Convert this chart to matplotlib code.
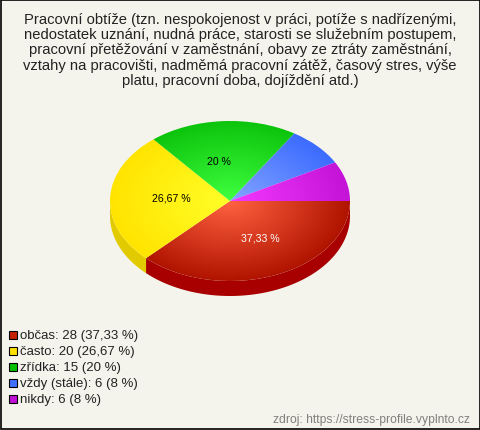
import numpy as np
import matplotlib
matplotlib.use('Agg')
import matplotlib.pyplot as plt
from matplotlib.patches import Wedge, Polygon, Rectangle
from matplotlib.transforms import Affine2D
from matplotlib.colors import LinearSegmentedColormap

plt.rcParams['font.family'] = ['Liberation Sans', 'DejaVu Sans']

title_lines = ['Pracovní obtíže (tzn. nespokojenost v práci, potíže s nadřízenými,',
               'nedostatek uznání, nudná práce, starosti se služebním postupem,',
               'pracovní přetěžování v zaměstnání, obavy ze ztráty zaměstnání,',
               'vztahy na pracovišti, nadměmá pracovní zátěž, časový stres, výše',
               'platu, pracovní doba, dojíždění atd.)']
categories = ['občas', 'často', 'zřídka', 'vždy (stále)', 'nikdy']
counts = [28, 20, 15, 6, 6]
pct_labels = ['37,33 %', '26,67 %', '20 %', '8 %', '8 %']
source = 'zdroj: https://stress-profile.vyplnto.cz'

inner = ['#ff6240', '#ffff28', '#40ff40', '#84a4ff', '#f438ff']
outer = ['#b01400', '#ffe400', '#0cc40c', '#3c6cff', '#c414d8']
side = ['#a80000', '#e2ca00', '#089008', '#2850c0', '#9010a0']
key = ['#c42000', '#ffe000', '#00c000', '#4070ff', '#c010d8']
label_col = ['white', 'black', 'black', None, None]
label_nudge = [(7, 1), (1, -2), (-7, -2), None, None]

bg = '#f5f4ec'
cx, cy, rx, ry, depth = 230, 202, 120, 80, 15

fig = plt.figure(figsize=(4.8, 4.31), dpi=100, facecolor=bg)
ax = fig.add_axes([0, 0, 1, 1])
ax.set_xlim(0, 480)
ax.set_ylim(431, 0)
ax.axis('off')

angles = np.concatenate([[0], np.cumsum(counts) / np.sum(counts) * 360])

# side wall, only the front half shows
for i in range(len(counts)):
    a0, a1 = angles[i], min(angles[i + 1], 180)
    if a0 >= 180:
        continue
    t = np.radians(np.linspace(a0, a1, 80))
    x = cx + rx * np.cos(t)
    y = cy + ry * np.sin(t)
    pts = np.r_[np.c_[x, y], np.c_[x[::-1], y[::-1] + depth]]
    ax.add_patch(Polygon(pts, closed=True, fc=side[i], ec='none'))

# top of the pie, radial gradient clipped to each slice
gx, gy = np.meshgrid(np.linspace(-1, 1, 500), np.linspace(-1, 1, 500))
dist = np.clip(np.hypot(gx, gy), 0, 1)
unit = Affine2D().scale(rx, ry).translate(cx, cy) + ax.transData
for i in range(len(counts)):
    cmap = LinearSegmentedColormap.from_list('c%d' % i, [inner[i], outer[i]])
    im = ax.imshow(dist, cmap=cmap, vmin=0, vmax=1, zorder=3, aspect='auto',
                   extent=[cx - rx, cx + rx, cy + ry, cy - ry])
    w = Wedge((0, 0), 1, angles[i], angles[i + 1], transform=unit, fc='none', ec='none')
    ax.add_patch(w)
    im.set_clip_path(w)
ax.set_xlim(0, 480)
ax.set_ylim(431, 0)

# percent labels for the big slices
for i in range(len(counts)):
    if label_col[i] is None:
        continue
    mid = np.radians((angles[i] + angles[i + 1]) / 2)
    ax.text(cx + 0.5 * rx * np.cos(mid) + label_nudge[i][0],
            cy + 0.5 * ry * np.sin(mid) * 0.95 + label_nudge[i][1], pct_labels[i],
            color=label_col[i], fontsize=7.6, ha='center', va='center', zorder=5)

# title
for i, line in enumerate(title_lines):
    ax.text(240, 20 + i * 15.2, line, fontsize=10.6, ha='center', va='center', color='#222222')

# legend
for i in range(len(counts)):
    y = 336 + i * 16.1
    ax.add_patch(Rectangle((9, y - 4), 8, 8, fc=key[i], ec='black', lw=0.8))
    ax.text(20, y, '%s: %d (%s)' % (categories[i], counts[i], pct_labels[i]),
            fontsize=9.5, ha='left', va='center', color='#222222')

ax.text(470, 420, source, fontsize=8.7, ha='right', va='center', color='#808080')

# outer frame
ax.add_patch(Rectangle((0.5, 0.5), 479, 430, fc='none', ec='black', lw=1.2, zorder=6))

fig.savefig('out.png', dpi=100, facecolor=bg)
